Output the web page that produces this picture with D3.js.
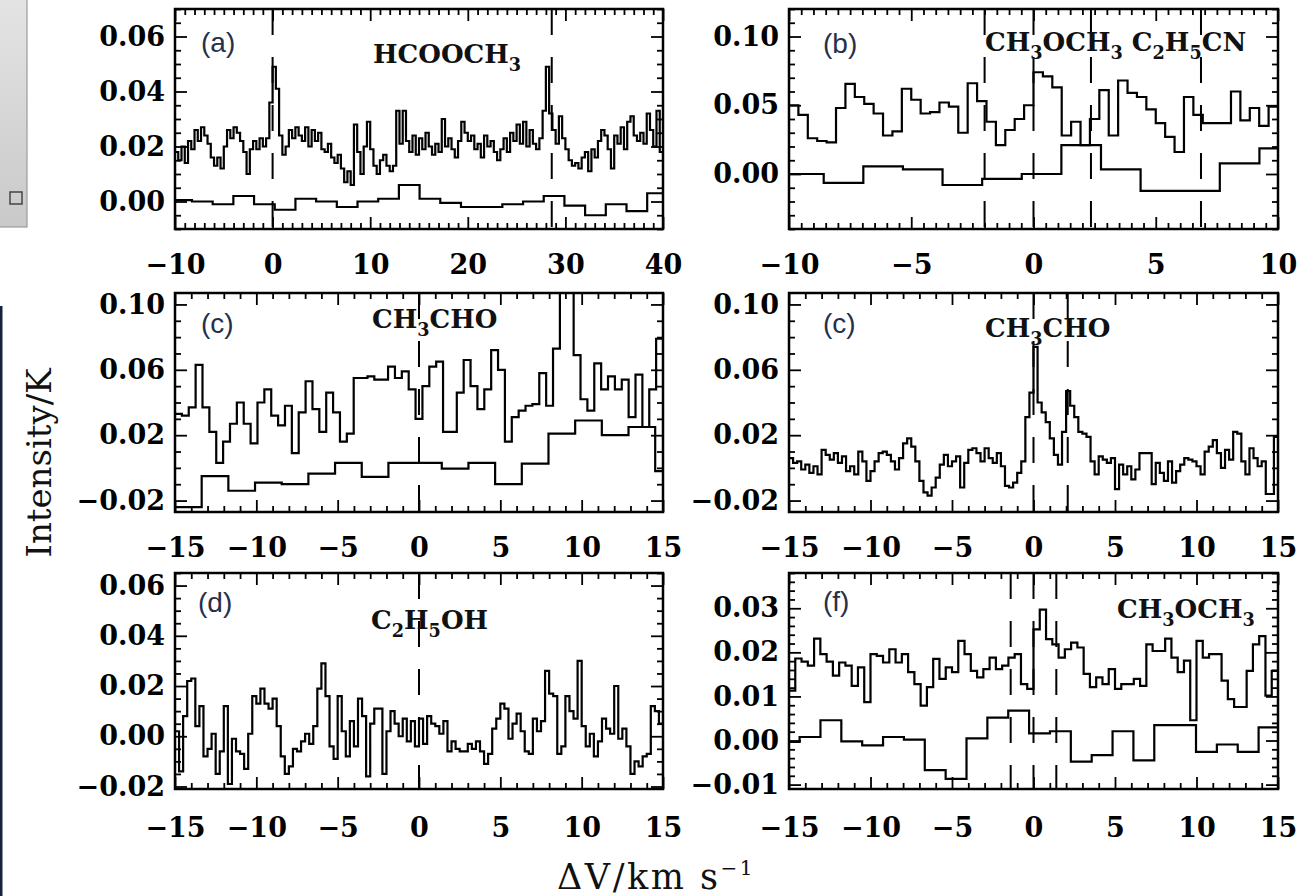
<!DOCTYPE html>
<html><head><meta charset="utf-8">
<script src="https://cdn.jsdelivr.net/npm/d3@7"></script>
<style>
html,body{margin:0;padding:0;background:#fff;}
svg{display:block;}
</style></head><body>
<svg id="chart" width="1311" height="896"></svg>
<script>
// ---------------- DATA ----------------
// Panel (a) HCOOCH3, fine spectrum: start velocity, channel width, values (K)
const aFineStart = -10, aFineWidth = 50 / 150;
const aFineValues = [
 0.018,0.015,0.020,0.014,0.022,0.019,0.026,0.022,0.027,0.024,
 0.021,0.016,0.013,0.016,0.012,0.020,0.026,0.023,0.027,0.025,
 0.022,0.018,0.010,0.019,0.022,0.019,0.023,0.020,0.023,0.036,
 0.049,0.041,0.024,0.017,0.020,0.026,0.023,0.027,0.024,0.022,
 0.027,0.020,0.026,0.022,0.025,0.019,0.018,0.021,0.016,0.014,
 0.017,0.012,0.007,0.011,0.006,0.028,0.018,0.010,0.020,0.029,
 0.019,0.013,0.010,0.015,0.017,0.013,0.011,0.013,0.033,0.021,
 0.033,0.022,0.018,0.024,0.017,0.023,0.019,0.025,0.020,0.017,
 0.021,0.018,0.030,0.020,0.023,0.019,0.016,0.022,0.029,0.025,
 0.022,0.024,0.019,0.021,0.016,0.024,0.020,0.022,0.018,0.015,
 0.019,0.023,0.018,0.025,0.022,0.028,0.021,0.029,0.020,0.026,
 0.021,0.019,0.023,0.033,0.049,0.032,0.026,0.021,0.031,0.023,
 0.019,0.015,0.013,0.014,0.012,0.016,0.018,0.011,0.019,0.016,
 0.022,0.026,0.024,0.019,0.012,0.024,0.021,0.027,0.019,0.029,
 0.031,0.024,0.022,0.025,0.021,0.032,0.026,0.020,0.033,0.018];
const aCoarseStart = -10.38, aCoarseWidth = 2.12;
const aCoarseValues = [0.0005,0.000,-0.001,0.002,-0.001,-0.003,0.001,0.000,-0.002,0.000,
 0.001,0.006,0.001,-0.0005,-0.002,-0.002,-0.001,0.000,0.002,-0.0015,-0.005,-0.001,-0.0035,0.003];
const aMarkers = [0, 28.6];

// Panel (b) CH3OCH3 / C2H5CN
const bFineStart = -10, bFineWidth = 20 / 52;
const bFineValues = [0.050,0.043,0.026,0.024,0.023,0.048,0.0655,0.056,0.051,0.044,
 0.028,0.031,0.062,0.054,0.044,0.045,0.052,0.049,0.030,0.066,
 0.053,0.038,0.021,0.032,0.040,0.050,0.074,0.071,0.063,0.028,
 0.038,0.021,0.040,0.061,0.028,0.068,0.059,0.056,0.047,0.037,
 0.027,0.016,0.056,0.043,0.037,0.037,0.037,0.060,0.039,0.048,0.035,0.049];
const bCoarseStart = -10.2, bCoarseWidth = 1.62;
const bCoarseValues = [0.000,-0.0065,0.0055,0.0033,-0.008,-0.0035,0.000,0.021,0.0033,-0.0123,-0.0123,0.0077,0.0186];
const bMarkers = [-2.0, 0, 2.35, 6.85];

// Panel (c) left CH3CHO
const cLFineStart = -15, cLFineWidth = 30 / 71;
const cLFineValues = [0.033,0.032,0.037,0.063,0.037,0.022,0.003,0.016,0.027,0.040,
 0.027,0.015,0.040,0.048,0.032,0.026,0.038,0.009,0.034,0.053,
 0.036,0.022,0.046,0.034,0.016,0.021,0.055,0.055,0.056,0.054,
 0.054,0.062,0.055,0.059,0.048,0.030,0.050,0.062,0.065,0.022,
 0.022,0.046,0.066,0.050,0.036,0.048,0.072,0.060,0.016,0.031,
 0.035,0.038,0.039,0.058,0.038,0.073,0.115,0.115,0.069,0.042,
 0.035,0.064,0.048,0.056,0.048,0.054,0.031,0.057,0.025,0.048,0.079];
const cLCoarseStart = -15, cLCoarseWidth = 1.64;
const cLCoarseValues = [-0.024,-0.005,-0.014,-0.009,-0.010,-0.0035,0.003,-0.0055,0.003,0.003,
 -0.0004,0.003,-0.010,0.0026,0.021,0.029,0.020,0.025,-0.002];
const cLMarkers = [0];

// Panel (c) right CH3CHO
const cRFineStart = -15, cRFineWidth = 0.25;
const cRFineValues = [
 0.006,0.003,0.004,-0.001,0.002,-0.003,0.001,-0.004,0.011,0.008,
 0.005,0.009,0.003,0.007,-0.002,0.001,-0.004,0.010,0.004,-0.008,
 -0.002,0.004,0.009,0.010,0.008,0.004,-0.001,0.006,0.015,0.018,
 0.013,0.004,-0.008,-0.015,-0.017,-0.012,-0.006,0.002,0.008,0.001,
 0.004,0.007,-0.012,0.003,0.011,0.012,0.009,0.004,0.012,0.006,
 0.003,0.009,0.001,-0.011,-0.012,-0.009,-0.003,0.004,0.031,0.046,
 0.074,0.040,0.034,0.028,0.018,0.008,0.002,0.022,0.047,0.038,
 0.031,0.022,0.021,0.019,0.004,-0.004,0.007,0.005,0.003,0.006,
 -0.013,0.002,-0.004,0.001,-0.007,-0.001,0.009,0.009,0.009,-0.010,
 0.003,-0.003,-0.008,0.004,-0.009,-0.002,0.002,0.006,0.005,0.004,
 0.001,-0.004,0.010,0.013,0.017,0.009,0.000,0.011,0.005,0.022,
 0.021,0.004,-0.004,0.012,0.006,0.001,0.004,-0.016,-0.016,0.019];
const cRMarkers = [0, 2.1];

// Panel (d) C2H5OH
const dFineStart = -15, dFineWidth = 0.25;
const dFineValues = [
 0.002,-0.014,0.008,0.022,0.023,0.004,0.012,-0.008,-0.005,0.001,
 -0.015,-0.006,0.012,-0.019,-0.001,-0.006,-0.007,-0.013,0.001,0.016,
 0.013,0.019,0.013,0.011,0.015,0.004,-0.008,-0.015,-0.012,-0.005,
 -0.006,-0.002,0.001,-0.003,0.004,0.019,0.029,0.016,-0.004,-0.009,
 0.016,0.002,-0.008,0.006,-0.004,0.015,0.008,-0.016,0.005,0.011,
 0.011,-0.015,0.002,0.010,0.005,0.000,0.007,-0.002,0.006,-0.004,
 0.007,-0.003,0.008,0.005,0.004,0.001,0.006,-0.006,-0.002,-0.005,
 -0.006,-0.006,-0.003,-0.005,-0.002,-0.006,-0.011,-0.007,0.003,0.007,
 0.013,0.011,-0.001,0.005,0.009,0.002,-0.006,-0.007,0.007,0.002,
 0.006,0.026,0.017,0.016,-0.007,-0.004,0.016,0.010,0.007,0.030,
 0.004,-0.004,0.001,-0.008,-0.002,0.007,0.003,0.001,0.020,-0.001,
 0.003,-0.004,-0.015,-0.010,-0.012,-0.008,-0.007,0.012,0.010,0.005];
const dMarkers = [0];

// Panel (f) CH3OCH3
const fFineStart = -15, fFineWidth = 30 / 78;
const fFineValues = [0.0113,0.0186,0.0179,0.0170,0.0231,0.0196,0.0179,0.0147,0.0177,0.0170,
 0.0124,0.0166,0.0087,0.0196,0.0192,0.0177,0.0207,0.0177,0.0196,0.0155,
 0.0128,0.0079,0.0121,0.0185,0.0140,0.0166,0.0155,0.0226,0.0196,0.0158,
 0.0143,0.0162,0.0188,0.0162,0.0170,0.0188,0.0196,0.0128,0.0117,0.0252,
 0.0297,0.0230,0.0218,0.0188,0.0207,0.0222,0.0211,0.0151,0.0121,0.0143,
 0.0128,0.0162,0.0117,0.0128,0.0128,0.0140,0.0124,0.0218,0.0203,0.0203,
 0.0231,0.0188,0.0155,0.0181,0.0046,0.0226,0.0188,0.0196,0.0196,0.0136,
 0.0094,0.0076,0.0076,0.0158,0.0218,0.0237,0.0102,0.0158];
const fCoarseStart = -15.63, fCoarseWidth = 1.28;
const fCoarseValues = [-0.0003,0.0008,0.0046,-0.0002,-0.0011,0.0008,0.0002,-0.0067,-0.0087,0.0005,
 0.0052,0.0068,0.0016,0.0021,-0.0048,-0.0033,0.0021,-0.0045,0.0035,0.0035,-0.0026,-0.0009,-0.0026,0.003];
const fMarkers = [-1.4, 0, 1.4];

// Tick labels
const xTicksA = [-10, 0, 10, 20, 30, 40];
const xTicksB = [-10, -5, 0, 5, 10];
const xTicks15 = [-15, -10, -5, 0, 5, 10, 15];
const yTicksA = [0.00, 0.02, 0.04, 0.06];
const yTicksB = [0.00, 0.05, 0.10];
const yTicksC = [-0.02, 0.02, 0.06, 0.10];
const yTicksD = [-0.02, 0.00, 0.02, 0.04, 0.06];
const yTicksF = [-0.01, 0.00, 0.01, 0.02, 0.03];

// ---------------- LAYOUT ----------------
const svg = d3.select("#chart");
const SERIF = "'DejaVu Serif', serif";
const COL1 = [175, 663], COL2 = [789, 1278];
const ROW1 = [9, 229], ROW2 = [293, 512], ROW3 = [573, 789];

const panels = [
 {letter:"(a)", mol:"HCOOCH_3", molX:373, molY:63, letX:201, letY:52,
  col:COL1, row:ROW1, xd:[-10,40], yd:[-0.01,0.07], xt:xTicksA, xMinor:1, yt:yTicksA, yMinor:0.005, xPad:26,
  spectra:[[aFineStart,aFineWidth,aFineValues],[aCoarseStart,aCoarseWidth,aCoarseValues]], markers:aMarkers},
 {letter:"(b)", mol:"CH_3OCH_3  C_2H_5CN", molX:985, molY:51, letX:823, letY:53,
  col:COL2, row:ROW1, xd:[-10,10], yd:[-0.04,0.12], xt:xTicksB, xMinor:0.5, yt:yTicksB, yMinor:0.01, xPad:26,
  spectra:[[bFineStart,bFineWidth,bFineValues],[bCoarseStart,bCoarseWidth,bCoarseValues]], markers:bMarkers},
 {letter:"(c)", mol:"CH_3CHO", molX:372, molY:328, letX:201, letY:333,
  col:COL1, row:ROW2, xd:[-15,15], yd:[-0.027,0.107], xt:xTicks15, xMinor:1, yt:yTicksC, yMinor:0.01, xPad:26,
  spectra:[[cLFineStart,cLFineWidth,cLFineValues],[cLCoarseStart,cLCoarseWidth,cLCoarseValues]], markers:cLMarkers},
 {letter:"(c)", mol:"CH_3CHO", molX:985, molY:337, letX:823, letY:333,
  col:COL2, row:ROW2, xd:[-15,15], yd:[-0.027,0.107], xt:xTicks15, xMinor:1, yt:yTicksC, yMinor:0.01, xPad:26,
  spectra:[[cRFineStart,cRFineWidth,cRFineValues]], markers:cRMarkers},
 {letter:"(d)", mol:"C_2H_5OH", molX:371, molY:629, letX:198, letY:612,
  col:COL1, row:ROW3, xd:[-15,15], yd:[-0.021,0.065], xt:xTicks15, xMinor:1, yt:yTicksD, yMinor:0.005, xPad:29,
  spectra:[[dFineStart,dFineWidth,dFineValues]], markers:dMarkers},
 {letter:"(f)", mol:"CH_3OCH_3", molX:1117, molY:618, letX:823, letY:611,
  col:COL2, row:ROW3, xd:[-15,15], yd:[-0.011,0.038], xt:xTicks15, xMinor:1, yt:yTicksF, yMinor:0.002, xPad:29,
  spectra:[[fFineStart,fFineWidth,fFineValues],[fCoarseStart,fCoarseWidth,fCoarseValues]], markers:fMarkers}
];

const defs = svg.append("defs");
// screenshot remnants at the left edge
const deco = svg.append("g");
const grad = defs.append("linearGradient").attr("id","gbox").attr("x1",0).attr("y1",0).attr("x2",0).attr("y2",1);
grad.append("stop").attr("offset","0%").attr("stop-color","#e4e4e4");
grad.append("stop").attr("offset","100%").attr("stop-color","#c9c9c9");
deco.append("rect").attr("x",-2).attr("y",-2).attr("width",29).attr("height",229).attr("fill","url(#gbox)").attr("stroke","#9c9c9c").attr("stroke-width",1.2);
deco.append("rect").attr("x",10).attr("y",192).attr("width",12).attr("height",12).attr("fill","none").attr("stroke","#444").attr("stroke-width",1.5);
deco.append("rect").attr("x",0).attr("y",306).attr("width",2.5).attr("height",590).attr("fill","#13233a");

function minorList(dom, step, majors) {
  const out = [];
  const first = Math.ceil(dom[0] / step - 1e-9);
  for (let k = first; k * step <= dom[1] + 1e-9; k++) {
    const v = +(k * step).toFixed(6);
    if (v < dom[0] - 1e-9) continue;
    if (!majors.some(m => Math.abs(m - v) < 1e-9)) out.push(v);
  }
  return out;
}

// molecule formula: "_d" marks a subscript digit
function molText(sel, str, size) {
  const parts = str.split(/(_\d)/).filter(s => s.length);
  const shift = size * 0.3;
  let lowered = false;
  parts.forEach(p => {
    if (p[0] === "_") {
      sel.append("tspan").attr("font-size", size * 0.68).attr("dy", lowered ? 0 : shift).text(p.slice(1));
      lowered = true;
    } else {
      sel.append("tspan").attr("dy", lowered ? -shift : 0).text(p);
      lowered = false;
    }
  });
}

panels.forEach((p, idx) => {
  const [L, R] = p.col, [T, B] = p.row;
  const x = d3.scaleLinear().domain(p.xd).range([L, R]);
  const y = d3.scaleLinear().domain(p.yd).range([B, T]);
  const g = svg.append("g");
  const cid = "clip" + idx;
  defs.append("clipPath").attr("id", cid)
    .append("rect").attr("x", L).attr("y", T).attr("width", R - L).attr("height", B - T);

  // marker lines
  g.append("g").selectAll("line").data(p.markers).join("line")
    .attr("x1", d => x(d)).attr("x2", d => x(d)).attr("y1", T).attr("y2", B)
    .attr("stroke", "#000").attr("stroke-width", 2).attr("stroke-dasharray", "26,22");

  // spectra
  const line = d3.line().x(d => x(d[0])).y(d => y(d[1])).curve(d3.curveStepAfter);
  p.spectra.forEach(([start, w, vals]) => {
    const pts = vals.map((v, i) => [start + i * w, v]);
    pts.push([start + vals.length * w, vals[vals.length - 1]]);
    g.append("path").attr("d", line(pts)).attr("fill", "none")
      .attr("stroke", "#000").attr("stroke-width", 2.2).attr("stroke-linejoin", "miter")
      .attr("clip-path", `url(#${cid})`);
  });

  const style = (ax) => {
    ax.select(".domain").remove();
    ax.selectAll(".tick line").attr("stroke", "#000").attr("stroke-width", 1.8);
    ax.attr("font-family", SERIF).attr("font-size", 27).attr("font-weight", "bold");
    ax.selectAll("text").attr("fill", "#000");
  };
  const xMin = minorList(p.xd, p.xMinor, p.xt);
  const yMin = minorList(p.yd, p.yMinor, p.yt);

  // bottom
  g.append("g").attr("transform", `translate(0,${B})`)
    .call(d3.axisBottom(x).tickValues(p.xt).tickSize(-12).tickPadding(p.xPad).tickFormat(d3.format("d"))).call(style);
  g.append("g").attr("transform", `translate(0,${B})`)
    .call(d3.axisBottom(x).tickValues(xMin).tickSize(-6).tickFormat("")).call(style);
  // top
  g.append("g").attr("transform", `translate(0,${T})`)
    .call(d3.axisTop(x).tickValues(p.xt).tickSize(-12).tickFormat("")).call(style);
  g.append("g").attr("transform", `translate(0,${T})`)
    .call(d3.axisTop(x).tickValues(xMin).tickSize(-6).tickFormat("")).call(style);
  // left
  g.append("g").attr("transform", `translate(${L},0)`)
    .call(d3.axisLeft(y).tickValues(p.yt).tickSize(-12).tickPadding(10).tickFormat(d3.format(".2f"))).call(style);
  g.append("g").attr("transform", `translate(${L},0)`)
    .call(d3.axisLeft(y).tickValues(yMin).tickSize(-6).tickFormat("")).call(style);
  // right
  g.append("g").attr("transform", `translate(${R},0)`)
    .call(d3.axisRight(y).tickValues(p.yt).tickSize(-12).tickFormat("")).call(style);
  g.append("g").attr("transform", `translate(${R},0)`)
    .call(d3.axisRight(y).tickValues(yMin).tickSize(-6).tickFormat("")).call(style);

  // frame
  g.append("rect").attr("x", L).attr("y", T).attr("width", R - L).attr("height", B - T)
    .attr("fill", "none").attr("stroke", "#000").attr("stroke-width", 2.5);

  // panel letter
  g.append("text").attr("x", p.letX).attr("y", p.letY)
    .attr("font-family", "'Liberation Sans', Arial, sans-serif").attr("font-size", 28)
    .attr("fill", "#25304a").text(p.letter);
  // molecule
  const mt = g.append("text").attr("x", p.molX).attr("y", p.molY)
    .attr("font-family", SERIF).attr("font-size", 26).attr("font-weight", "bold").attr("fill", "#111");
  molText(mt, p.mol, 26);
});

// axis titles
svg.append("text").attr("transform", "translate(51,463) rotate(-90)")
  .attr("text-anchor", "middle").attr("font-family", SERIF).attr("font-size", 34)
  .attr("fill", "#111").text("Intensity/K");
const xt = svg.append("text").attr("x", 656).attr("y", 889).attr("text-anchor", "middle")
  .attr("font-family", SERIF).attr("font-size", 35).attr("letter-spacing", 2.5).attr("fill", "#111");
xt.append("tspan").text("\u0394V/km s");
xt.append("tspan").attr("font-size", 20).attr("dy", -14).text("\u22121");
</script>
</body></html>
